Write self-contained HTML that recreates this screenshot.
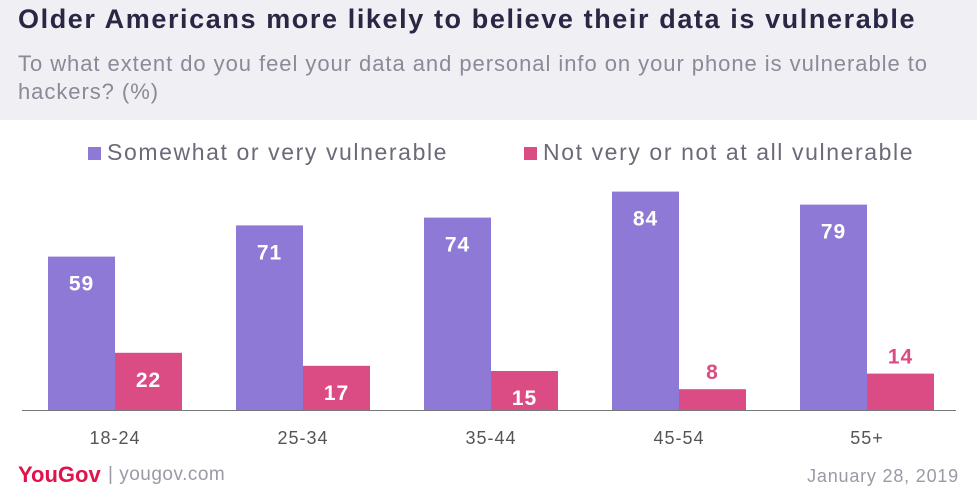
<!DOCTYPE html>
<html><head><meta charset="utf-8"><style>
body{margin:0;width:977px;height:493px;background:#fff;font-family:"Liberation Sans",sans-serif;overflow:hidden;position:relative}
.hdr{position:absolute;left:0;top:0;width:977px;height:120px;background:#efeff4}
.t{position:absolute;left:18px;top:4px;font-size:27px;font-weight:bold;color:#2a2745;letter-spacing:1.6px;white-space:nowrap}
.s{position:absolute;left:18px;top:50px;width:950px;font-size:22px;line-height:28px;color:#8a8a98;letter-spacing:0.95px;white-space:nowrap}
.lg{position:absolute;top:139px;font-size:23px;color:#6a6a78;letter-spacing:1.6px;white-space:nowrap}
.sw{display:inline-block;width:13px;height:13px;margin-right:6px}
</style></head><body>
<div class="hdr"></div>
<div class="t">Older Americans more likely to believe their data is vulnerable</div>
<div class="s">To what extent do you feel your data and personal info on your phone is vulnerable to<br>hackers? (%)</div>
<div class="lg" style="left:88px"><span class="sw" style="background:#8e79d6"></span>Somewhat or very vulnerable</div>
<div class="lg" style="left:524px"><span class="sw" style="background:#db4b84"></span>Not very or not at all vulnerable</div>
<svg id="c" width="977" height="493" style="position:absolute;left:0;top:0"></svg>
<div style="position:absolute;left:18px;top:462px;font-size:22px;font-weight:bold;color:#e0134b">YouGov</div>
<div style="position:absolute;left:108px;top:464px;font-size:19px;color:#9a9aa6;letter-spacing:0.5px">| yougov.com</div>
<div style="position:absolute;right:18px;top:466px;font-size:18px;color:#9a9aa6;letter-spacing:0.8px">January 28, 2019</div>
<script>
const categories=["18-24","25-34","35-44","45-54","55+"];
const vulnerable=[59,71,74,84,79];
const notVulnerable=[22,17,15,8,14];
const svg=document.getElementById('c');const NS="http://www.w3.org/2000/svg";
const base=410,k=2.6,x0=48,step=188,bw=67;
const y=v=>base-v*k;
function mk(t,a){const e=document.createElementNS(NS,t);for(const n in a)e.setAttribute(n,a[n]);svg.appendChild(e);return e;}
categories.forEach((c,i)=>{
 const xs=x0+i*step;
 [[vulnerable[i],'#8e79d6',xs,'bar-vulnerable'],[notVulnerable[i],'#db4b84',xs+bw,'bar-not-vulnerable']].forEach(([v,col,x,nm])=>{
  const r=mk('rect',{x:x,y:y(v),width:bw,height:v*k,fill:col});
  
  
  const inside=v*k>=38;
  const t=mk('text',{x:x+bw/2,y:inside?y(v)+34:y(v)-10,'text-anchor':'middle','font-size':21,'font-weight':'bold','letter-spacing':1,fill:inside?'#fff':col});
  t.textContent=v;
  
  
 });
 const l=mk('text',{x:xs+bw,y:444,'text-anchor':'middle','font-size':18,'letter-spacing':1,fill:'#555'});
 l.textContent=c;
 
 
});
const ax=mk('line',{x1:22,x2:956,y1:base+0.5,y2:base+0.5,stroke:'#777','stroke-width':1});


</script>
</body></html>
